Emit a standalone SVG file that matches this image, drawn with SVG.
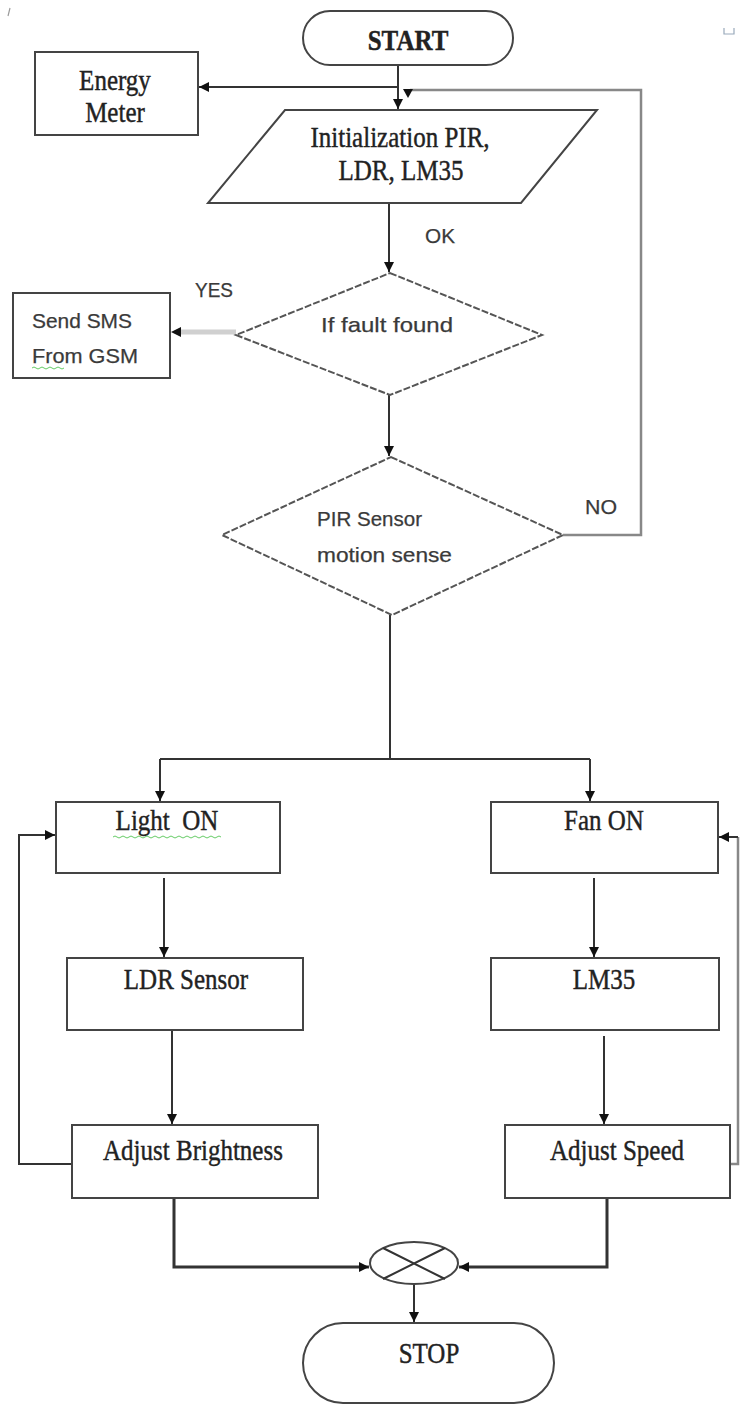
<svg xmlns="http://www.w3.org/2000/svg" width="740" height="1406" viewBox="0 0 740 1406">
<defs>
<style>
.box{fill:#fff;stroke:#444;stroke-width:2}
.dia{fill:#fff;stroke:#555;stroke-width:2;stroke-dasharray:7 2}
.ln{fill:none;stroke:#333;stroke-width:2}
.lnt{fill:none;stroke:#333;stroke-width:3}
.lng{fill:none;stroke:#888;stroke-width:2.5}
.serif{font-family:"Liberation Serif","Times New Roman",serif;font-size:25px;fill:#222;stroke:#222;stroke-width:0.35;text-anchor:middle}
.sans{font-family:"Liberation Sans",Arial,sans-serif;font-size:21px;fill:#3a3a3a;stroke:#3a3a3a;stroke-width:0.25}
</style>
<marker id="ah" markerUnits="userSpaceOnUse" markerWidth="10" markerHeight="10" viewBox="0 0 10 10" refX="10" refY="5" orient="auto">
<path d="M0,0 L10,5 L0,10 z" fill="#111"/>
</marker>
</defs>
<rect width="740" height="1406" fill="#fff"/>
<path d="M10,8 L8,16" stroke="#999" stroke-width="1.2"/>
<path d="M724,28 L724,34 L734,34 L734,28" fill="none" stroke="#9ab" stroke-width="1.2"/>

<g id="connectors">
<path class="ln" d="M398,65 L398,109" marker-end="url(#ah)"/>
<path class="ln" d="M398,87 L199,87" marker-end="url(#ah)"/>
<path class="lng" d="M563,535 L641,535 L641,90 L410,90"/>
<path d="M403,89 L413,89 L408,98 z" fill="#111"/>
<path class="ln" d="M389,203 L389,272" marker-end="url(#ah)"/>
<path d="M236,332 L180,332" fill="none" stroke="#d0d0d0" stroke-width="5"/>
<path d="M181,327 L171,332 L181,337 z" fill="#111"/>
<path class="ln" d="M389,395 L389,456" marker-end="url(#ah)"/>
<path class="ln" d="M390,615 L390,759"/>
<path class="ln" d="M160,759 L590,759"/>
<path class="ln" d="M160,759 L160,801" marker-end="url(#ah)"/>
<path class="ln" d="M590,759 L590,801" marker-end="url(#ah)"/>
<path class="ln" d="M164,878 L164,957" marker-end="url(#ah)"/>
<path class="ln" d="M594,878 L594,957" marker-end="url(#ah)"/>
<path class="ln" d="M172,1030 L172,1124" marker-end="url(#ah)"/>
<path class="ln" d="M604,1036 L604,1124" marker-end="url(#ah)"/>
<path class="ln" d="M72,1164 L19,1164 L19,835 L55,835" marker-end="url(#ah)"/>
<path class="lng" d="M730,1164 L738,1164 L738,837"/>
<path class="ln" d="M738,837 L719,837" marker-end="url(#ah)"/>
<path class="lnt" d="M174,1198 L174,1267 L369,1267" marker-end="url(#ah)"/>
<path class="lnt" d="M607,1198 L607,1267 L459,1267" marker-end="url(#ah)"/>
<path class="ln" d="M414,1285 L414,1322" marker-end="url(#ah)"/>
</g>

<g id="start">
<rect class="box" x="303" y="11" width="210" height="54" rx="27"/>
<text class="serif" transform="matrix(1,0,0,1.2,0,50)" x="408" y="0" font-weight="bold" font-size="24">START</text>
</g>
<g id="energy-meter">
<rect class="box" x="35" y="52" width="163" height="83"/>
<text class="serif" transform="matrix(1,0,0,1.2,0,90)" x="115" y="0">Energy</text>
<text class="serif" transform="matrix(1,0,0,1.2,0,122)" x="115" y="0">Meter</text>
</g>
<g id="init">
<path class="box" d="M285,110 L597,110 L521,203 L208,203 z"/>
<text class="serif" transform="matrix(1,0,0,1.2,0,147)" x="400" y="0">Initialization PIR,</text>
<text class="serif" transform="matrix(1,0,0,1.2,0,180)" x="401" y="0">LDR, LM35</text>
</g>
<text class="sans" x="425" y="243" textLength="30" lengthAdjust="spacingAndGlyphs">OK</text>
<g id="fault">
<path class="dia" d="M390,273 L542,335 L390,395 L236,335 z"/>
<text class="sans" x="321" y="332" textLength="132" lengthAdjust="spacingAndGlyphs">If fault found</text>
</g>
<text class="sans" x="195" y="297" textLength="38" lengthAdjust="spacingAndGlyphs">YES</text>
<g id="sms">
<rect class="box" x="13" y="293" width="157" height="85"/>
<text class="sans" x="32" y="328" textLength="100" lengthAdjust="spacingAndGlyphs">Send SMS</text>
<text class="sans" x="32" y="363" textLength="106" lengthAdjust="spacingAndGlyphs">From GSM</text>
<path d="M32,368 q2,-2 4,0 t4,0 t4,0 t4,0 t4,0 t4,0 t4,0 t4,0" fill="none" stroke="#6c6" stroke-width="1"/>
</g>
<g id="pir">
<path class="dia" d="M391,457 L563,535 L392,615 L222,535 z"/>
<text class="sans" x="317" y="526" textLength="105" lengthAdjust="spacingAndGlyphs">PIR Sensor</text>
<text class="sans" x="317" y="562" textLength="135" lengthAdjust="spacingAndGlyphs">motion sense</text>
</g>
<text class="sans" x="585" y="514" textLength="32" lengthAdjust="spacingAndGlyphs">NO</text>
<g id="light-on">
<rect class="box" x="56" y="802" width="224" height="71"/>
<text class="serif" transform="matrix(1,0,0,1.2,0,830)" x="167" y="0" xml:space="preserve">Light  ON</text>
<path d="M113,837 q2,-2 4,0 t4,0 t4,0 t4,0 t4,0 t4,0 t4,0 t4,0 t4,0 t4,0 t4,0 t4,0 t4,0 t4,0 t4,0 t4,0 t4,0 t4,0 t4,0 t4,0 t4,0 t4,0 t4,0 t4,0 t4,0 t4,0 t4,0" fill="none" stroke="#6c6" stroke-width="1"/>
</g>
<g id="fan-on">
<rect class="box" x="491" y="802" width="227" height="71"/>
<text class="serif" transform="matrix(1,0,0,1.2,0,830)" x="604" y="0">Fan ON</text>
</g>
<g id="ldr">
<rect class="box" x="67" y="958" width="236" height="72"/>
<text class="serif" transform="matrix(1,0,0,1.2,0,989)" x="186" y="0">LDR Sensor</text>
</g>
<g id="lm35">
<rect class="box" x="491" y="958" width="228" height="72"/>
<text class="serif" transform="matrix(1,0,0,1.2,0,989)" x="604" y="0">LM35</text>
</g>
<g id="adjust-brightness">
<rect class="box" x="72" y="1125" width="246" height="73"/>
<text class="serif" transform="matrix(1,0,0,1.2,0,1160)" x="193" y="0">Adjust Brightness</text>
</g>
<g id="adjust-speed">
<rect class="box" x="505" y="1125" width="225" height="73"/>
<text class="serif" transform="matrix(1,0,0,1.2,0,1160)" x="617" y="0">Adjust Speed</text>
</g>
<g id="junction">
<ellipse class="box" cx="414" cy="1263" rx="44" ry="21"/>
<path class="ln" d="M383,1248 L445,1279 M445,1248 L383,1279" stroke-width="1.8"/>
</g>
<g id="stop">
<rect class="box" x="303" y="1323" width="251" height="80" rx="40"/>
<text class="serif" transform="matrix(1,0,0,1.2,0,1363)" x="429" y="0">STOP</text>
</g>
</svg>
